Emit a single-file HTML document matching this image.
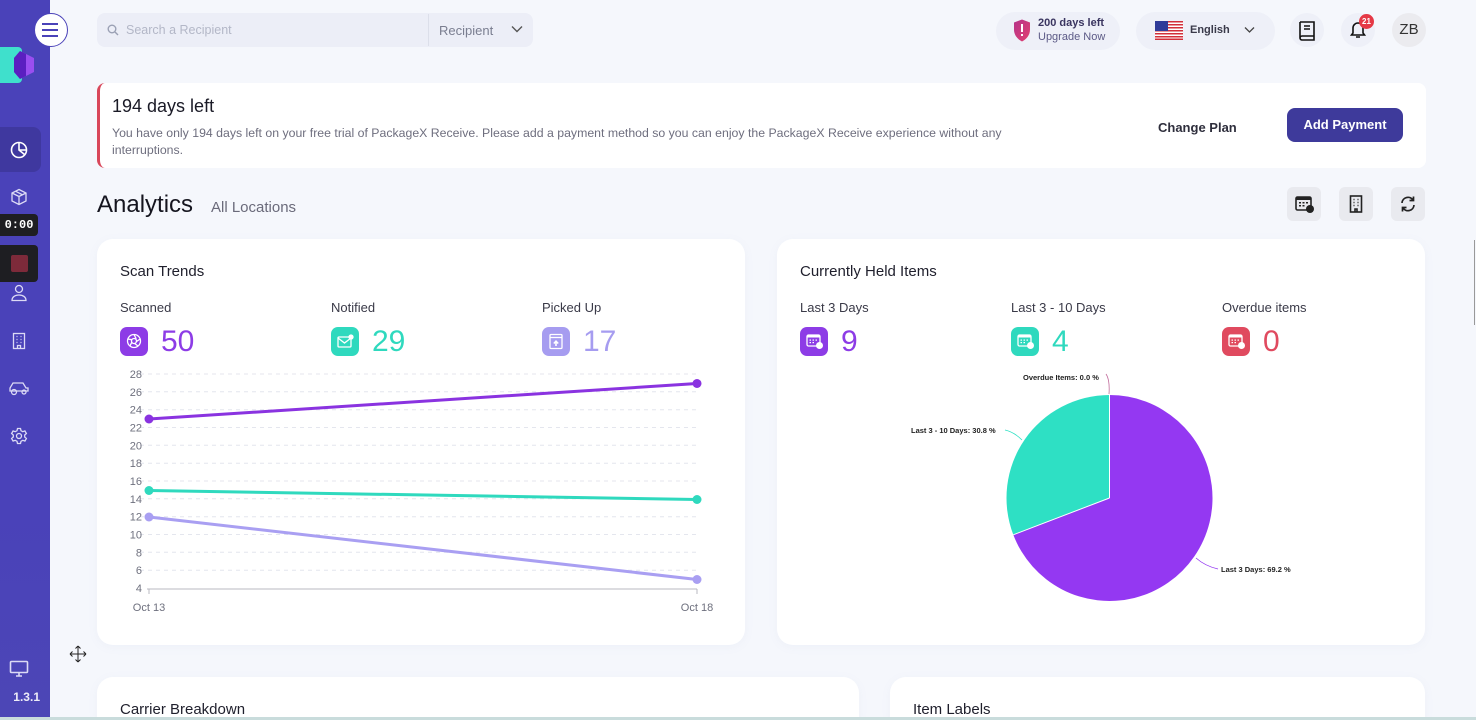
<!DOCTYPE html>
<html><head><meta charset="utf-8">
<style>
*{margin:0;padding:0;box-sizing:border-box}
html{width:1476px;height:720px;overflow:hidden}
body{width:1476px;height:720px;overflow:hidden;background:#f5f7fc;font-family:"Liberation Sans",sans-serif;position:relative;color:#1f1f2e}
.a{position:absolute}
.side{left:0;top:0;width:50px;height:720px;background:linear-gradient(180deg,#4a42b9 0%,#4a42b9 70%,#4c46b6 100%)}
.card{background:#fff;border-radius:16px;box-shadow:0 2px 10px rgba(120,130,180,0.06)}
.lbl{font-size:13px;color:#3a3a48}
.num{font-size:30px;line-height:28px}
.ib{width:28px;height:29px;border-radius:7px}
.sq{background:#e9eaef;border-radius:6px;width:34px;height:34px}
.pill{background:#eef0f8;border-radius:20px}
</style></head><body>

<!-- sidebar -->
<div class="a side"></div>
<div class="a" style="left:0;top:47px;width:22px;height:36px;background:#3fe0cc;border-radius:0 4px 4px 0"></div>
<svg class="a" style="left:10px;top:50px" width="26" height="30" viewBox="0 0 26 30"><polygon points="10,1 24,8 24,22 10,29 4,22 4,8" fill="#9a4ef0"/><polygon points="10,1 16,4 16,26 10,29 4,22 4,8" fill="#5a1fc0"/></svg>
<div class="a" style="left:34px;top:13px;width:34px;height:34px;border-radius:50%;background:#fff;border:1.5px solid #4a42b9"></div>
<div class="a" style="left:42px;top:23px;width:16px;height:2px;background:#4a42b9;box-shadow:0 6px 0 #4a42b9,0 12px 0 #4a42b9"></div>
<div class="a" style="left:0;top:127px;width:41px;height:45px;background:#3f389f;border-radius:0 8px 8px 0"></div>
<svg class="a" style="left:10px;top:141px" width="18" height="18" viewBox="0 0 18 18" fill="none" stroke="#fff" stroke-width="1.6"><circle cx="9" cy="9" r="7.5"/><path d="M9 1.5V9l5.5 4.5M9 9h7.5"/></svg>
<svg class="a" style="left:10px;top:188px" width="18" height="18" viewBox="0 0 18 18" fill="none" stroke="#dcdaf5" stroke-width="1.3"><path d="M9 1.5l7 3.5v8l-7 3.5-7-3.5v-8z M2 5l7 3.5L16 5 M9 8.5v8 M5.5 3.2l7 3.6"/></svg>
<div class="a" style="left:0;top:214px;width:38px;height:22px;background:#1e1e22;border-radius:0 4px 4px 0;color:#fff;font-size:12px;font-weight:bold;line-height:22px;text-align:center;font-family:'Liberation Mono',monospace">0:00</div>
<div class="a" style="left:0;top:245px;width:38px;height:37px;background:#1e1e22;border-radius:0 4px 4px 0"></div>
<div class="a" style="left:11px;top:255px;width:17px;height:17px;background:#7d2a3a;border-radius:2px"></div>
<svg class="a" style="left:10px;top:284px" width="18" height="18" viewBox="0 0 18 18" fill="none" stroke="#dcdaf5" stroke-width="1.3"><circle cx="9" cy="5" r="3.5"/><path d="M2 16.5c0-3.5 3-5.5 7-5.5s7 2 7 5.5z"/></svg>
<svg class="a" style="left:10px;top:332px" width="18" height="18" viewBox="0 0 18 18" fill="none" stroke="#dcdaf5" stroke-width="1.3"><rect x="3.5" y="1.5" width="11" height="15"/><path d="M6.5 4.5h1M10.5 4.5h1M6.5 7.5h1M10.5 7.5h1M6.5 10.5h1M10.5 10.5h1M7.5 16.5v-3h3v3"/></svg>
<svg class="a" style="left:8px;top:379px" width="22" height="18" viewBox="0 0 22 18" fill="none" stroke="#dcdaf5" stroke-width="1.3"><path d="M2 12V9l3-5h10l3 5h2v3z"/><circle cx="6" cy="13" r="2.5"/><circle cx="16" cy="13" r="2"/></svg>
<svg class="a" style="left:10px;top:427px" width="18" height="18" viewBox="0 0 18 18" fill="none" stroke="#dcdaf5" stroke-width="1.3"><circle cx="9" cy="9" r="2.5"/><path d="M7.5 1.5h3l.5 2.2 1.8 1 2.1-.8 1.5 2.6-1.7 1.5v2l1.7 1.5-1.5 2.6-2.1-.8-1.8 1-.5 2.2h-3l-.5-2.2-1.8-1-2.1.8-1.5-2.6 1.7-1.5v-2L1.6 6.5l1.5-2.6 2.1.8 1.8-1z"/></svg>
<svg class="a" style="left:9px;top:660px" width="20" height="18" viewBox="0 0 20 18" fill="none" stroke="#dcdaf5" stroke-width="1.6"><rect x="1.5" y="1.5" width="17" height="11" rx="1"/><path d="M7 16h6M10 12.5V16"/></svg>
<div class="a" style="left:0;top:690px;width:40px;text-align:right;color:#fff;font-size:12px;font-weight:bold;opacity:.9">1.3.1</div>
<svg class="a" style="left:69px;top:645px" width="18" height="18" viewBox="0 0 18 18" fill="none" stroke="#222" stroke-width="1"><path d="M9 1v16M1 9h16M9 1l-2.5 2.5M9 1l2.5 2.5M9 17l-2.5-2.5M9 17l2.5-2.5M1 9l2.5-2.5M1 9l2.5 2.5M17 9l-2.5-2.5M17 9l-2.5 2.5"/></svg>

<!-- top bar -->
<div class="a" style="left:97px;top:13px;width:436px;height:34px;background:#eceef7;border-radius:8px"></div>
<svg class="a" style="left:107px;top:24px" width="12" height="12" viewBox="0 0 12 12" fill="none" stroke="#9aa0b4" stroke-width="1.4"><circle cx="5" cy="5" r="3.8"/><path d="M8 8l3 3"/></svg>
<div class="a" style="left:126px;top:23px;font-size:12.5px;color:#b3b7c7">Search a Recipient</div>
<div class="a" style="left:428px;top:14px;width:1px;height:32px;background:#dcdfea"></div>
<div class="a" style="left:439px;top:23px;font-size:13px;color:#7a7e90">Recipient</div>
<svg class="a" style="left:511px;top:25px" width="12" height="9" viewBox="0 0 12 9" fill="none" stroke="#555" stroke-width="1.4"><path d="M1 1.5l5 5 5-5"/></svg>

<div class="a pill" style="left:996px;top:12px;width:124px;height:38px"></div>
<svg class="a" style="left:1013px;top:19px" width="18" height="23" viewBox="0 0 18 23"><defs><linearGradient id="g1" x1="0" y1="0" x2="1" y2="1"><stop offset="0" stop-color="#b5338a"/><stop offset="1" stop-color="#e24070"/></linearGradient></defs><path d="M9 0.5l8 3v7c0 6-4 10-8 12-4-2-8-6-8-12v-7z" fill="url(#g1)"/><rect x="8" y="5" width="2" height="8" fill="#fff"/><rect x="8" y="15" width="2" height="2" fill="#fff"/></svg>
<div class="a" style="left:1038px;top:17px;font-size:11px;font-weight:bold;color:#3a3560">200 days left</div>
<div class="a" style="left:1038px;top:31px;font-size:11px;color:#5c5a86">Upgrade Now</div>

<div class="a pill" style="left:1136px;top:12px;width:139px;height:38px"></div>
<svg class="a" style="left:1155px;top:21px" width="28" height="19" viewBox="0 0 28 19"><rect width="28" height="19" fill="#fff"/><g fill="#d22f3a"><rect y="0" width="28" height="1.5"/><rect y="3" width="28" height="1.5"/><rect y="6" width="28" height="1.5"/><rect y="9" width="28" height="1.5"/><rect y="12" width="28" height="1.5"/><rect y="15" width="28" height="1.5"/><rect y="17.5" width="28" height="1.5"/></g><rect width="13" height="10" fill="#2f3b99"/></svg>
<div class="a" style="left:1190px;top:24px;font-size:11px;font-weight:bold;color:#3a3a4a">English</div>
<svg class="a" style="left:1244px;top:26px" width="11" height="8" viewBox="0 0 11 8" fill="none" stroke="#444" stroke-width="1.3"><path d="M1 1.5l4.5 4.5 4.5-4.5"/></svg>

<div class="a" style="left:1290px;top:13px;width:34px;height:34px;border-radius:50%;background:#eef0f8"></div>
<svg class="a" style="left:1298px;top:20px" width="18" height="21" viewBox="0 0 18 21" fill="none" stroke="#111" stroke-width="1.6"><path d="M2 2h14v14H4a2 2 0 0 0 0 4h12v-4M2 2v16"/><path d="M6 6h6M6 9h6"/></svg>
<div class="a" style="left:1341px;top:13px;width:34px;height:34px;border-radius:50%;background:#eef0f8"></div>
<svg class="a" style="left:1350px;top:21px" width="16" height="18" viewBox="0 0 16 18" fill="none" stroke="#111" stroke-width="1.6"><path d="M3 12V7a5 5 0 0 1 10 0v5l1.5 2h-13z M6 16h4"/></svg>
<div class="a" style="left:1359px;top:14px;width:15px;height:15px;border-radius:50%;background:#e53946;color:#fff;font-size:8px;font-weight:bold;line-height:15px;text-align:center">21</div>
<div class="a" style="left:1392px;top:13px;width:34px;height:34px;border-radius:50%;background:#ebebef;font-size:15px;color:#333;line-height:34px;text-align:center">ZB</div>

<!-- banner -->
<div class="a" style="left:97px;top:83px;width:1329px;height:85px;background:#fff;border-radius:8px;border-left:3px solid #d9475a"></div>
<div class="a" style="left:112px;top:96px;font-size:18px;color:#1a1a26">194 days left</div>
<div class="a" style="left:112px;top:125px;width:920px;font-size:12.3px;line-height:16.5px;color:#6e6e7e">You have only 194 days left on your free trial of PackageX Receive. Please add a payment method so you can enjoy the PackageX Receive experience without any interruptions.</div>
<div class="a" style="left:1158px;top:120px;font-size:13px;font-weight:bold;color:#2e2e3c">Change Plan</div>
<div class="a" style="left:1287px;top:108px;width:116px;height:34px;background:#3e3a9b;border-radius:8px;color:#fff;font-size:13px;font-weight:bold;line-height:34px;text-align:center">Add Payment</div>

<!-- analytics header -->
<div class="a" style="left:97px;top:191px;font-size:24px;color:#15151f">Analytics</div>
<div class="a" style="left:211px;top:199px;font-size:15px;color:#6a6a7a">All Locations</div>
<div class="a sq" style="left:1287px;top:187px"></div>
<svg class="a" style="left:1295px;top:195px" width="20" height="19" viewBox="0 0 20 19"><rect x="1" y="2" width="15" height="13" rx="1.5" fill="none" stroke="#222" stroke-width="1.6"/><rect x="1" y="2" width="15" height="3" fill="#222"/><g fill="#222"><rect x="4" y="7" width="2" height="1.5"/><rect x="7.5" y="7" width="2" height="1.5"/><rect x="11" y="7" width="2" height="1.5"/><rect x="4" y="10" width="2" height="1.5"/><rect x="7.5" y="10" width="2" height="1.5"/></g><circle cx="15" cy="14" r="4" fill="#222"/></svg>
<div class="a sq" style="left:1339px;top:187px"></div>
<svg class="a" style="left:1349px;top:195px" width="14" height="18" viewBox="0 0 14 18" fill="none" stroke="#222" stroke-width="1.6"><rect x="1.5" y="1" width="11" height="16"/><path d="M4.5 4.5h1M8.5 4.5h1M4.5 7.5h1M8.5 7.5h1M4.5 10.5h1M8.5 10.5h1M6 17v-3h2v3"/></svg>
<div class="a sq" style="left:1391px;top:187px"></div>
<svg class="a" style="left:1399px;top:195px" width="18" height="18" viewBox="0 0 18 18" fill="none" stroke="#222" stroke-width="1.7"><path d="M3 8a6 6 0 0 1 11-3M15 10a6 6 0 0 1-11 3"/><path d="M14.5 1.5v4h-4M3.5 16.5v-4h4"/></svg>

<!-- card 1 -->
<div class="a card" style="left:97px;top:239px;width:648px;height:406px"></div>
<div class="a" style="left:120px;top:263px;font-size:15px;color:#1f1f2c">Scan Trends</div>
<div class="a lbl" style="left:120px;top:300px">Scanned</div>
<div class="a lbl" style="left:331px;top:300px">Notified</div>
<div class="a lbl" style="left:542px;top:300px">Picked Up</div>
<div class="a ib" style="left:120px;top:327px;background:#8d3ce6"></div>
<svg class="a" style="left:126px;top:333px" width="16" height="16" viewBox="0 0 16 16" fill="none" stroke="#fff" stroke-width="1.3"><circle cx="8" cy="8" r="6.5"/><circle cx="8" cy="8" r="2.5"/><path d="M8 1.5l2.2 4.3M14.2 6l-4.2 2.8M12 13l-3.5-2.6M4 13l1.8-3.8M1.8 6l4.4.8"/></svg>
<div class="a num" style="left:161px;top:328px;color:#8d3ce6">50</div>
<div class="a ib" style="left:331px;top:327px;background:#2fd9be"></div>
<svg class="a" style="left:337px;top:334px" width="17" height="15" viewBox="0 0 17 15" fill="none" stroke="#fff" stroke-width="1.3"><rect x="1" y="3" width="13" height="10" rx="1"/><path d="M1 4l6.5 5 6.5-5"/><circle cx="14" cy="3" r="2" fill="#fff"/></svg>
<div class="a num" style="left:372px;top:328px;color:#2fd9be">29</div>
<div class="a ib" style="left:542px;top:327px;background:#a69cf0"></div>
<svg class="a" style="left:549px;top:333px" width="14" height="17" viewBox="0 0 14 17" fill="none" stroke="#fff" stroke-width="1.3"><rect x="1" y="1.5" width="12" height="14" rx="1"/><path d="M1 4.5h12"/><path d="M7 13V8.5M4.8 10.5L7 8.2l2.2 2.3" stroke-width="1.6"/></svg>
<div class="a num" style="left:583px;top:328px;color:#a69cf0">17</div>

<svg class="a" style="left:97px;top:360px" width="648" height="260" viewBox="97 360 648 260" font-family="Liberation Sans, sans-serif">
  <g stroke="#e4e6ee" stroke-width="1" stroke-dasharray="4 4">
    <line x1="140" y1="374" x2="697" y2="374"/><line x1="140" y1="391.8" x2="697" y2="391.8"/><line x1="140" y1="409.7" x2="697" y2="409.7"/><line x1="140" y1="427.5" x2="697" y2="427.5"/><line x1="140" y1="445.3" x2="697" y2="445.3"/><line x1="140" y1="463.2" x2="697" y2="463.2"/><line x1="140" y1="481" x2="697" y2="481"/><line x1="140" y1="498.8" x2="697" y2="498.8"/><line x1="140" y1="516.7" x2="697" y2="516.7"/><line x1="140" y1="534.5" x2="697" y2="534.5"/><line x1="140" y1="552.3" x2="697" y2="552.3"/><line x1="140" y1="570.2" x2="697" y2="570.2"/>
  </g>
  <line x1="147" y1="589" x2="697" y2="589" stroke="#b8b9c2" stroke-width="1"/>
  <line x1="149" y1="589" x2="149" y2="594" stroke="#b8b9c2"/><line x1="697" y1="589" x2="697" y2="594" stroke="#b8b9c2"/>
  <g font-size="11" fill="#6e707e" text-anchor="end">
    <text x="142" y="378">28</text><text x="142" y="395.8">26</text><text x="142" y="413.7">24</text><text x="142" y="431.5">22</text><text x="142" y="449.3">20</text><text x="142" y="467.2">18</text><text x="142" y="485">16</text><text x="142" y="502.8">14</text><text x="142" y="520.7">12</text><text x="142" y="538.5">10</text><text x="142" y="556.3">8</text><text x="142" y="574.2">6</text><text x="142" y="592">4</text>
  </g>
  <g font-size="11" fill="#6e707e" text-anchor="middle"><text x="149" y="611">Oct 13</text><text x="697" y="611">Oct 18</text></g>
  <line x1="149" y1="419" x2="697" y2="383.5" stroke="#8a33e0" stroke-width="3"/>
  <circle cx="149" cy="419" r="4.5" fill="#8a33e0"/><circle cx="697" cy="383.5" r="4.5" fill="#8a33e0"/>
  <line x1="149" y1="490.5" x2="697" y2="499.5" stroke="#2fd9be" stroke-width="3"/>
  <circle cx="149" cy="490.5" r="4.5" fill="#2fd9be"/><circle cx="697" cy="499.5" r="4.5" fill="#2fd9be"/>
  <line x1="149" y1="517" x2="697" y2="579.5" stroke="#a99ff2" stroke-width="3"/>
  <circle cx="149" cy="517" r="4.5" fill="#a99ff2"/><circle cx="697" cy="579.5" r="4.5" fill="#a99ff2"/>
</svg>

<!-- card 2 -->
<div class="a card" style="left:777px;top:239px;width:648px;height:406px"></div>
<div class="a" style="left:800px;top:263px;font-size:15px;color:#1f1f2c">Currently Held Items</div>
<div class="a lbl" style="left:800px;top:300px">Last 3 Days</div>
<div class="a lbl" style="left:1011px;top:300px">Last 3 - 10 Days</div>
<div class="a lbl" style="left:1222px;top:300px">Overdue items</div>
<div class="a ib" style="left:800px;top:327px;background:#8d3ce6"></div>
<div class="a ib" style="left:1011px;top:327px;background:#2fd9be"></div>
<div class="a ib" style="left:1222px;top:327px;background:#e04a5f"></div>
<svg class="a" style="left:806px;top:334px" width="18" height="16" viewBox="0 0 18 16"><rect x="1" y="1" width="13" height="11" rx="1.5" fill="none" stroke="#fff" stroke-width="1.3"/><rect x="1" y="1" width="13" height="2.5" fill="#fff"/><g fill="#fff"><rect x="3.5" y="5.5" width="1.5" height="1.2"/><rect x="6.5" y="5.5" width="1.5" height="1.2"/><rect x="9.5" y="5.5" width="1.5" height="1.2"/><rect x="3.5" y="8" width="1.5" height="1.2"/><rect x="6.5" y="8" width="1.5" height="1.2"/></g><circle cx="13.5" cy="11.5" r="3.5" fill="#fff"/></svg>
<svg class="a" style="left:1017px;top:334px" width="18" height="16" viewBox="0 0 18 16"><rect x="1" y="1" width="13" height="11" rx="1.5" fill="none" stroke="#fff" stroke-width="1.3"/><rect x="1" y="1" width="13" height="2.5" fill="#fff"/><g fill="#fff"><rect x="3.5" y="5.5" width="1.5" height="1.2"/><rect x="6.5" y="5.5" width="1.5" height="1.2"/><rect x="9.5" y="5.5" width="1.5" height="1.2"/><rect x="3.5" y="8" width="1.5" height="1.2"/><rect x="6.5" y="8" width="1.5" height="1.2"/></g><circle cx="13.5" cy="11.5" r="3.5" fill="#fff"/></svg>
<svg class="a" style="left:1228px;top:334px" width="18" height="16" viewBox="0 0 18 16"><rect x="1" y="1" width="13" height="11" rx="1.5" fill="none" stroke="#fff" stroke-width="1.3"/><rect x="1" y="1" width="13" height="2.5" fill="#fff"/><g fill="#fff"><rect x="3.5" y="5.5" width="1.5" height="1.2"/><rect x="6.5" y="5.5" width="1.5" height="1.2"/><rect x="9.5" y="5.5" width="1.5" height="1.2"/><rect x="3.5" y="8" width="1.5" height="1.2"/><rect x="6.5" y="8" width="1.5" height="1.2"/></g><circle cx="13.5" cy="11.5" r="3.5" fill="#fff"/></svg>
<div class="a num" style="left:841px;top:328px;color:#8d3ce6">9</div>
<div class="a num" style="left:1052px;top:328px;color:#2fd9be">4</div>
<div class="a num" style="left:1263px;top:328px;color:#e04a5f">0</div>

<svg class="a" style="left:777px;top:360px" width="648" height="260" viewBox="777 360 648 260" font-family="Liberation Sans, sans-serif">
  <path d="M1109.5 498 L1109.5 395 A103 103 0 1 1 1013.3 534.8 Z" fill="#9438f2"/>
  <path d="M1109.5 498 L1013.3 534.8 A103 103 0 0 1 1109.5 395 Z" fill="#2ee0c4"/>
  <line x1="1109.5" y1="498" x2="1013.3" y2="534.8" stroke="#fff" stroke-width="1"/>
  <line x1="1109.5" y1="498" x2="1109.5" y2="395" stroke="#fff" stroke-width="1"/>
  <path d="M1109 394 Q1110 380 1106 374" fill="none" stroke="#c06a9a" stroke-width="0.8"/>
  <path d="M1022 440 Q1014 432 1005 430" fill="none" stroke="#2ee0c4" stroke-width="0.8"/>
  <path d="M1196 558 Q1205 566 1218 569" fill="none" stroke="#9438f2" stroke-width="0.8"/>
  <g font-size="7.5" font-weight="bold" fill="#222">
    <text x="1023" y="380">Overdue Items: 0.0 %</text>
    <text x="911" y="433">Last 3 - 10 Days: 30.8 %</text>
    <text x="1221" y="572">Last 3 Days: 69.2 %</text>
  </g>
</svg>

<!-- bottom cards -->
<div class="a card" style="left:97px;top:677px;width:762px;height:43px;border-radius:16px 16px 0 0"></div>
<div class="a" style="left:120px;top:701px;font-size:15px;color:#1f1f2c">Carrier Breakdown</div>
<div class="a card" style="left:890px;top:677px;width:535px;height:43px;border-radius:16px 16px 0 0"></div>
<div class="a" style="left:913px;top:701px;font-size:15px;color:#1f1f2c">Item Labels</div>
<div class="a" style="left:0;top:717px;width:1476px;height:3px;background:#c9dcdc"></div>
<div class="a" style="left:1474px;top:240px;width:1px;height:85px;background:#999"></div>
</body></html>
